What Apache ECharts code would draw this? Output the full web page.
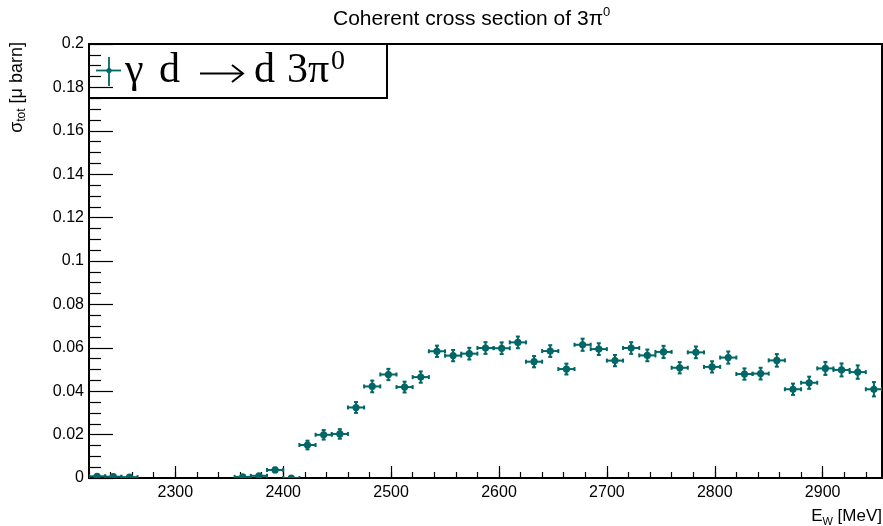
<!DOCTYPE html>
<html>
<head>
<meta charset="utf-8">
<script src="https://cdn.jsdelivr.net/npm/echarts@6/dist/echarts.min.js"></script>
<style>
  html, body { margin: 0; padding: 0; background: #ffffff; }
  #chart { width: 883px; height: 526px; }
</style>
</head>
<body>
<div id="chart"></div>
<script>
// Photon energy bins (centres, MeV), bin width 15 MeV
const binCenters = [
  2227.5, 2242.5, 2257.5,
  2362.5, 2377.5, 2392.5, 2407.5, 2422.5, 2437.5, 2452.5, 2467.5, 2482.5,
  2497.5, 2512.5, 2527.5, 2542.5, 2557.5, 2572.5, 2587.5, 2602.5, 2617.5,
  2632.5, 2647.5, 2662.5, 2677.5, 2692.5, 2707.5, 2722.5, 2737.5, 2752.5,
  2767.5, 2782.5, 2797.5, 2812.5, 2827.5, 2842.5, 2857.5, 2872.5, 2887.5,
  2902.5, 2917.5, 2932.5, 2947.5
];
const BIN_WIDTH = 15;

// Total coherent cross section (µb)
const crossSection = [
  0.0008, 0.0006, 0.0004,
  0.0005, 0.0010, 0.0037, 0.0000, 0.0152, 0.0199, 0.0203, 0.0325, 0.0422,
  0.0477, 0.0419, 0.0465, 0.0584, 0.0564, 0.0573, 0.0599, 0.0598, 0.0625,
  0.0536, 0.0585, 0.0502, 0.0614, 0.0594, 0.0541, 0.0599, 0.0565, 0.0581,
  0.0508, 0.0579, 0.0512, 0.0555, 0.0479, 0.0481, 0.0542, 0.0409, 0.0439,
  0.0505, 0.0498, 0.0488, 0.0409
];

// Statistical uncertainty (µb)
const crossSectionErr = [
  0.0006, 0.0005, 0.0005,
  0.0005, 0.0008, 0.0010, 0.0004, 0.0020, 0.0022, 0.0022, 0.0025, 0.0027,
  0.0026, 0.0025, 0.0026, 0.0026, 0.0026, 0.0027, 0.0027, 0.0027, 0.0027,
  0.0026, 0.0027, 0.0025, 0.0028, 0.0027, 0.0026, 0.0027, 0.0027, 0.0028,
  0.0026, 0.0027, 0.0026, 0.0028, 0.0026, 0.0027, 0.0029, 0.0026, 0.0028,
  0.0030, 0.0030, 0.0031, 0.0033
];

// Axis ranges and labelled ticks
const xRange = [2220, 2955];
const xMajorTicks = [2300, 2400, 2500, 2600, 2700, 2800, 2900];
const yRange = [0, 0.2];
const yStep = 0.02;

const COLOR = '#006666';
const SANS = 'Liberation Sans, Arial, sans-serif';
const SERIF = 'Liberation Serif, Times New Roman, serif';

const chart = echarts.init(document.getElementById('chart'), null, { renderer: 'canvas' });

const points = binCenters.map((x, i) => [x, crossSection[i], crossSectionErr[i]]);

function renderErrorPoint(params, api) {
  const x = api.value(0), y = api.value(1), e = api.value(2);
  const c = api.coord([x, y]);
  const xl = api.coord([x - BIN_WIDTH / 2, y])[0];
  const xr = api.coord([x + BIN_WIDTH / 2, y])[0];
  const yt = api.coord([x, y + e])[1];
  const yb = api.coord([x, y - e])[1];
  const cap = 2;
  const st = { stroke: COLOR, lineWidth: 2 };
  return {
    type: 'group',
    children: [
      { type: 'line', shape: { x1: xl, y1: c[1], x2: xr, y2: c[1] }, style: st },
      { type: 'line', shape: { x1: xl, y1: c[1] - cap, x2: xl, y2: c[1] + cap }, style: st },
      { type: 'line', shape: { x1: xr, y1: c[1] - cap, x2: xr, y2: c[1] + cap }, style: st },
      { type: 'line', shape: { x1: c[0], y1: yt, x2: c[0], y2: yb }, style: st },
      { type: 'line', shape: { x1: c[0] - cap, y1: yt, x2: c[0] + cap, y2: yt }, style: st },
      { type: 'line', shape: { x1: c[0] - cap, y1: yb, x2: c[0] + cap, y2: yb }, style: st },
      { type: 'circle', shape: { cx: c[0], cy: c[1], r: 3.6 }, style: { fill: COLOR } }
    ]
  };
}

// Legend label pieces (serif, ROOT-like spacing)
function legendText(str, x, size, y) {
  return {
    type: 'text', x: x, y: y,
    style: { text: str, fontFamily: SERIF, fontSize: size, fill: '#000', align: 'left', verticalAlign: 'middle' }
  };
}

const option = {
  backgroundColor: '#ffffff',
  animation: false,
  title: {
    text: '{t|Coherent cross section of 3π}{s|0}',
    left: 328,
    top: 1,
    textStyle: {
      fontWeight: 'normal',
      rich: {
        t: { fontFamily: SANS, fontWeight: 'normal', fontSize: 21, color: '#000', lineHeight: 27 },
        s: { fontFamily: SANS, fontWeight: 'normal', fontSize: 13, color: '#000', lineHeight: 14, verticalAlign: 'top' }
      }
    }
  },
  grid: {
    left: 89, right: 1, top: 44, bottom: 48,
    show: true, borderColor: '#000', borderWidth: 2, backgroundColor: 'transparent'
  },
  xAxis: [
    {
      type: 'value', min: xRange[0], max: xRange[1],
      axisLine: { show: true, lineStyle: { color: '#000', width: 2 } },
      splitLine: { show: false },
      axisTick: { show: true, inside: true, length: 12, customValues: xMajorTicks, lineStyle: { color: '#000', width: 1.2 } },
      axisLabel: {
        customValues: xMajorTicks, margin: 7, color: '#000', fontFamily: SANS, fontSize: 16,
        formatter: (v) => String(v)
      }
    },
    {
      type: 'value', min: xRange[0], max: xRange[1], interval: 20, position: 'bottom',
      axisLine: { show: false },
      splitLine: { show: false },
      axisTick: { show: true, inside: true, length: 6, lineStyle: { color: '#000', width: 1.2 } },
      axisLabel: { show: false }
    }
  ],
  yAxis: {
    type: 'value', min: yRange[0], max: yRange[1], interval: yStep,
    axisLine: { show: true, lineStyle: { color: '#000', width: 2 } },
    splitLine: { show: false },
    axisTick: { show: true, inside: true, length: 24, lineStyle: { color: '#000', width: 1.2 } },
    minorTick: { show: true, splitNumber: 4, length: 12, lineStyle: { color: '#000', width: 1.2 } },
    minorSplitLine: { show: false },
    axisLabel: { margin: 5, color: '#000', fontFamily: SANS, fontSize: 16 }
  },
  series: [
    {
      name: 'γ d → d 3π0',
      type: 'custom',
      xAxisIndex: 0,
      yAxisIndex: 0,
      clip: true,
      renderItem: renderErrorPoint,
      encode: { x: 0, y: 1 },
      data: points,
      z: 3
    }
  ],
  graphic: [
    // y-axis title
    {
      type: 'text', x: 17, y: 42, rotation: Math.PI / 2,
      style: {
        text: '{m|σ}{b|tot}{m| [μ barn]}',
        align: 'right', verticalAlign: 'middle',
        rich: {
          m: { fontFamily: SANS, fontSize: 18, color: '#000', lineHeight: 22 },
          b: { fontFamily: SANS, fontSize: 12, color: '#000', lineHeight: 12, verticalAlign: 'bottom' }
        }
      }
    },
    // x-axis title
    {
      type: 'text', x: 882, y: 516,
      style: {
        text: '{m|E}{b|W}{m| [MeV]}',
        align: 'right', verticalAlign: 'middle',
        rich: {
          m: { fontFamily: SANS, fontSize: 17, color: '#000', lineHeight: 22 },
          b: { fontFamily: SANS, fontSize: 11, color: '#000', lineHeight: 11, verticalAlign: 'bottom' }
        }
      }
    },
    // legend box
    {
      type: 'group', z: 10,
      children: [
        { type: 'rect', shape: { x: 89, y: 44, width: 298, height: 54 }, style: { fill: '#fff', stroke: '#000', lineWidth: 2 } },
        { type: 'line', shape: { x1: 96, y1: 70.5, x2: 121, y2: 70.5 }, style: { stroke: COLOR, lineWidth: 1.8 } },
        { type: 'line', shape: { x1: 109, y1: 57, x2: 109, y2: 86 }, style: { stroke: COLOR, lineWidth: 1.8 } },
        { type: 'circle', shape: { cx: 109, cy: 70.5, r: 2.6 }, style: { fill: COLOR } },
        legendText('γ', 125, 42, 71),
        legendText('d', 159, 42, 71),
        { type: 'line', shape: { x1: 200, y1: 73.5, x2: 243, y2: 73.5 }, style: { stroke: '#000', lineWidth: 2 } },
        { type: 'polyline', shape: { points: [[232, 65], [243, 73.5], [232, 82]] }, style: { stroke: '#000', lineWidth: 2, fill: null } },
        legendText('d', 254, 42, 71),
        legendText('3π', 287, 42, 71),
        legendText('0', 331, 28, 62)
      ]
    }
  ]
};

chart.setOption(option);
</script>
</body>
</html>
